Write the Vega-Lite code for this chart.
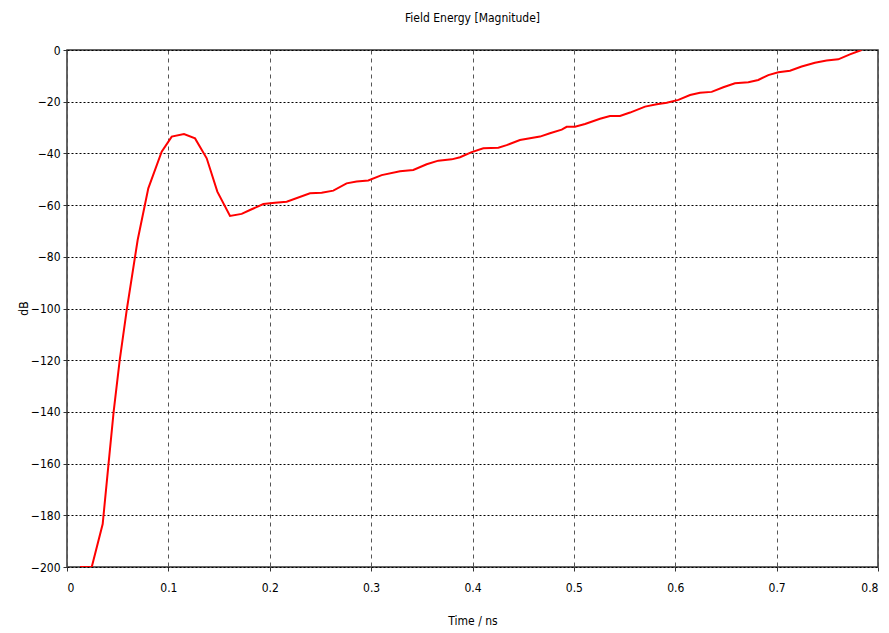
{
  "$schema": "https://vega.github.io/schema/vega-lite/v6.json",
  "autosize": "none",
  "width": 811,
  "height": 517,
  "padding": {"left": 67, "top": 50, "right": 11, "bottom": 66},
  "background": "white",
  "title": {"text": "Field Energy [Magnitude]", "font": "'Liberation Sans Narrow', 'DejaVu Sans Condensed', sans-serif", "fontSize": 12, "fontWeight": "normal", "color": "#000", "offset": 19, "anchor": "middle"},
  "config": {
    "view": {"stroke": "#333", "strokeWidth": 1.5},
    "axis": {"labelFont": "'Liberation Sans Narrow', 'DejaVu Sans Condensed', sans-serif", "titleFont": "'Liberation Sans Narrow', 'DejaVu Sans Condensed', sans-serif", "labelFontSize": 12, "titleFontSize": 12, "titleFontWeight": "normal", "labelColor": "#000", "titleColor": "#000", "domain": false, "tickColor": "#333", "tickSize": 4}
  },
  "data": {"values": [
    {"t": 0.0128, "db": -200}, {"t": 0.0244, "db": -200}, {"t": 0.0352, "db": -183.4},
    {"t": 0.041, "db": -160}, {"t": 0.046, "db": -140}, {"t": 0.052, "db": -120},
    {"t": 0.0589, "db": -100.6}, {"t": 0.0697, "db": -73.5}, {"t": 0.0802, "db": -53.5},
    {"t": 0.0934, "db": -39.3}, {"t": 0.1033, "db": -33.5}, {"t": 0.1154, "db": -32.5},
    {"t": 0.1263, "db": -34.2}, {"t": 0.1378, "db": -41.9}, {"t": 0.1483, "db": -54.8},
    {"t": 0.1608, "db": -64.2}, {"t": 0.1723, "db": -63.4}, {"t": 0.1805, "db": -61.9},
    {"t": 0.1937, "db": -59.6}, {"t": 0.2052, "db": -59.1}, {"t": 0.2167, "db": -58.7},
    {"t": 0.2397, "db": -55.4}, {"t": 0.2512, "db": -55.2}, {"t": 0.2627, "db": -54.4},
    {"t": 0.2758, "db": -51.6}, {"t": 0.2857, "db": -50.9}, {"t": 0.2972, "db": -50.5},
    {"t": 0.3104, "db": -48.4}, {"t": 0.3285, "db": -46.9}, {"t": 0.3416, "db": -46.4},
    {"t": 0.3548, "db": -44.2}, {"t": 0.3663, "db": -42.8}, {"t": 0.3795, "db": -42.3},
    {"t": 0.3877, "db": -41.5}, {"t": 0.3992, "db": -39.5}, {"t": 0.4107, "db": -38.0},
    {"t": 0.4255, "db": -37.8}, {"t": 0.4337, "db": -36.8}, {"t": 0.4468, "db": -34.8},
    {"t": 0.4666, "db": -33.5}, {"t": 0.4764, "db": -32.2}, {"t": 0.488, "db": -30.8},
    {"t": 0.4929, "db": -29.7}, {"t": 0.5011, "db": -29.7}, {"t": 0.511, "db": -28.6},
    {"t": 0.5258, "db": -26.6}, {"t": 0.5356, "db": -25.5}, {"t": 0.5455, "db": -25.5},
    {"t": 0.5554, "db": -24.2}, {"t": 0.5702, "db": -21.9}, {"t": 0.5817, "db": -21.0},
    {"t": 0.5916, "db": -20.4}, {"t": 0.6031, "db": -19.3}, {"t": 0.6146, "db": -17.4},
    {"t": 0.6244, "db": -16.5}, {"t": 0.6359, "db": -16.2}, {"t": 0.6474, "db": -14.4},
    {"t": 0.6589, "db": -12.9}, {"t": 0.6721, "db": -12.5}, {"t": 0.6819, "db": -11.6},
    {"t": 0.6918, "db": -9.7}, {"t": 0.7017, "db": -8.6}, {"t": 0.7132, "db": -8.0},
    {"t": 0.7247, "db": -6.4}, {"t": 0.7378, "db": -4.9}, {"t": 0.7493, "db": -4.1},
    {"t": 0.7608, "db": -3.6}, {"t": 0.7723, "db": -1.7}, {"t": 0.7838, "db": 0}
  ]},
  "mark": {"type": "line", "color": "#ff0000", "strokeWidth": 2, "clip": true},
  "encoding": {
    "x": {"field": "t", "type": "quantitative", "scale": {"domain": [0, 0.8], "nice": false},
      "axis": {"title": "Time / ns", "values": [0, 0.1, 0.2, 0.3, 0.4, 0.5, 0.6, 0.7, 0.8], "format": "~g", "labelPadding": 11, "titlePadding": 22, "grid": true, "gridColor": "#555", "gridDash": [4, 4], "gridWidth": 1}},
    "y": {"field": "db", "type": "quantitative", "scale": {"domain": [-200, 0], "nice": false},
      "axis": {"title": "dB", "values": [-200, -180, -160, -140, -120, -100, -80, -60, -40, -20, 0], "labelPadding": 3, "titleX": -44, "titleY": 258, "titleAlign": "center", "titleBaseline": "middle", "grid": true, "gridColor": "#000", "gridDash": [2, 2], "gridWidth": 1}}
  }
}
